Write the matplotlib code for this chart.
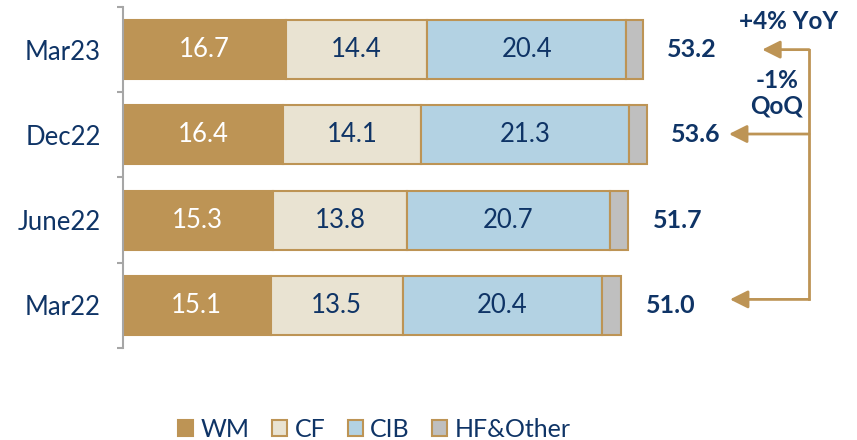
import matplotlib.pyplot as plt
from matplotlib.patches import Patch, FancyArrowPatch
import numpy as np

periods = ['Mar23', 'Dec22', 'June22', 'Mar22']
wm = [16.7, 16.4, 15.3, 15.1]
cf = [14.4, 14.1, 13.8, 13.5]
cib = [20.4, 21.3, 20.7, 20.4]
hf_other = [1.7, 1.8, 1.9, 2.0]
totals = ['53.2', '53.6', '51.7', '51.0']
segments = ['WM', 'CF', 'CIB', 'HF&Other']

gold = '#BD9455'
navy = '#0F3466'
colors = [gold, '#E9E3D2', '#B3D2E3', '#BFBFBF']
text_colors = ['white', navy, navy, None]

plt.rcParams['font.family'] = ['Lato', 'DejaVu Sans']

fig = plt.figure(figsize=(8.57, 4.40), dpi=100)
ax = fig.add_axes([123 / 857, 92 / 440, 733 / 857, 341 / 440])

y = np.arange(len(periods))
left = np.zeros(len(periods))
for vals, col, tcol in zip([wm, cf, cib, hf_other], colors, text_colors):
    vals = np.array(vals)
    ax.barh(y, vals, left=left, height=0.69, color=col, edgecolor=gold, linewidth=1.5)
    if tcol:
        for yi, l, v in zip(y, left, vals):
            ax.text(l + v / 2, yi, f'{v:.1f}', ha='center', va='center',
                    fontsize=18.5, color=tcol)
    left += vals

for yi, tot, t in zip(y, left, totals):
    ax.text(tot + 2.5, yi, t, ha='left', va='center', fontsize=18,
            fontweight='bold', color=navy)

ax.set_xlim(0, 75)
ax.set_ylim(len(periods) - 0.5, -0.5)
ax.set_yticks(y)
ax.set_yticklabels(periods, fontsize=18.5, color=navy)
ax.set_yticks(np.arange(len(periods) + 1) - 0.5, minor=True)
ax.tick_params(axis='y', which='major', length=0, pad=16)
ax.tick_params(axis='y', which='minor', length=4, width=1.5, color='#A6A6A6')
ax.set_xticks([])
for s in ['top', 'right', 'bottom']:
    ax.spines[s].set_visible(False)
ax.spines['left'].set_color('#A6A6A6')
ax.spines['left'].set_linewidth(1.5)

# YoY / QoQ bracket
xv = 70.2
ax.plot([xv, xv], [0, 2.93], color=gold, lw=2, solid_capstyle='projecting')
for yy, x_end in [(0, 65.4), (0.99, 62.0), (2.93, 62.1)]:
    ax.add_patch(FancyArrowPatch((xv, yy), (x_end, yy),
                                 arrowstyle='-|>,head_length=0.6,head_width=0.3',
                                 color=gold, lw=2, mutation_scale=18,
                                 shrinkA=0, shrinkB=0))
ax.text(68.1, -0.33, '+4% YoY', ha='center', va='center', fontsize=17.5,
        fontweight='bold', color=navy)
ax.text(66.9, 0.51, '-1%\nQoQ', ha='center', va='center', fontsize=17.5,
        fontweight='bold', color=navy, linespacing=1.1)

handles = [Patch(facecolor=c, edgecolor=gold, linewidth=1.5) for c in colors]
fig.legend(handles, segments, loc='center', bbox_to_anchor=(0.437, 0.025),
           ncol=4, frameon=False, fontsize=18, handlelength=0.6,
           handleheight=0.6, handletextpad=0.3, columnspacing=0.9,
           labelcolor=navy, borderaxespad=0, borderpad=0)

fig.savefig('out.png', dpi=100)
